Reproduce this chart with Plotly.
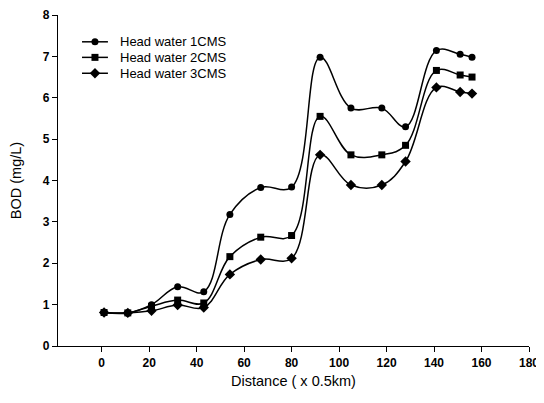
import plotly.graph_objects as go

distance = [1, 11, 21, 32, 43, 54, 67, 80, 92, 105, 118, 128, 141, 151, 156]
bod_1cms = [0.81, 0.80, 1.00, 1.43, 1.31, 3.18, 3.83, 3.84, 6.98, 5.75, 5.75, 5.30, 7.14, 7.05, 6.98]
bod_2cms = [0.81, 0.80, 0.96, 1.11, 1.04, 2.16, 2.63, 2.67, 5.55, 4.62, 4.62, 4.85, 6.66, 6.55, 6.50]
bod_3cms = [0.81, 0.80, 0.85, 0.99, 0.93, 1.73, 2.09, 2.12, 4.62, 3.89, 3.89, 4.46, 6.25, 6.14, 6.10]

series_names = ["Head water 1CMS", "Head water 2CMS", "Head water 3CMS"]
series_values = [bod_1cms, bod_2cms, bod_3cms]
symbols = ["circle", "square", "diamond"]
sizes = [7, 7, 8]

# legend layout (paper fractions of the plot area)
legend_rows_y = [0.919, 0.872, 0.824]
legend_line_x = [0.051, 0.106]
legend_text_x = 0.127

fig = go.Figure()
for name, vals, sym, sz in zip(series_names, series_values, symbols, sizes):
    fig.add_trace(go.Scatter(
        x=distance, y=vals, name=name, mode="lines+markers",
        line=dict(color="black", width=1.5, shape="spline", smoothing=1.1),
        marker=dict(symbol=sym, size=sz, color="black"),
        showlegend=False,
    ))

# manual legend on an overlay axis spanning the plot area
for name, sym, sz, ly in zip(series_names, symbols, sizes, legend_rows_y):
    fig.add_trace(go.Scatter(
        x=legend_line_x, y=[ly, ly], mode="lines", xaxis="x2", yaxis="y2",
        line=dict(color="black", width=1.5), showlegend=False, hoverinfo="skip",
    ))
    fig.add_trace(go.Scatter(
        x=[sum(legend_line_x) / 2], y=[ly], mode="markers", xaxis="x2", yaxis="y2",
        marker=dict(symbol=sym, size=sz, color="black"), showlegend=False, hoverinfo="skip",
    ))
    fig.add_annotation(
        x=legend_text_x, y=ly, xref="x2", yref="y2", text=name, showarrow=False,
        xanchor="left", yanchor="middle", font=dict(size=13, color="black"),
    )

tick_font = dict(family="Liberation Sans, Arial", size=12, color="black", weight="bold")
title_font = dict(family="Liberation Sans, Arial", size=14.5, color="black")

# page body adds an 8px offset, so the figure is sized to fit the 544x403 window
fig.update_layout(
    width=536, height=395,
    margin=dict(l=50, r=15, t=7, b=57),
    paper_bgcolor="white", plot_bgcolor="white",
    font=dict(family="Liberation Sans, Arial", color="black"),
    showlegend=False,
    xaxis2=dict(range=[0, 1], overlaying="x", visible=False, fixedrange=True),
    yaxis2=dict(range=[0, 1], overlaying="y", visible=False, fixedrange=True),
)
fig.layout.xaxis.update(
    range=[-18.4, 180], tickmode="array", tickvals=list(range(0, 181, 20)),
    showline=True, linecolor="black", linewidth=1.2, ticks="outside", ticklen=5,
    tickcolor="black", showgrid=False, zeroline=False, automargin=False,
    tickfont=tick_font,
    title=dict(text="Distance ( x 0.5km)", font=title_font, standoff=7),
)
fig.layout.yaxis.update(
    range=[0, 8], tickmode="array", tickvals=list(range(0, 9)),
    showline=True, linecolor="black", linewidth=1.2, ticks="outside", ticklen=5,
    tickcolor="black", showgrid=False, zeroline=False, automargin=False,
    tickfont=tick_font,
    title=dict(text="BOD (mg/L)", font=title_font, standoff=17),
)
fig.write_html("out.html")
